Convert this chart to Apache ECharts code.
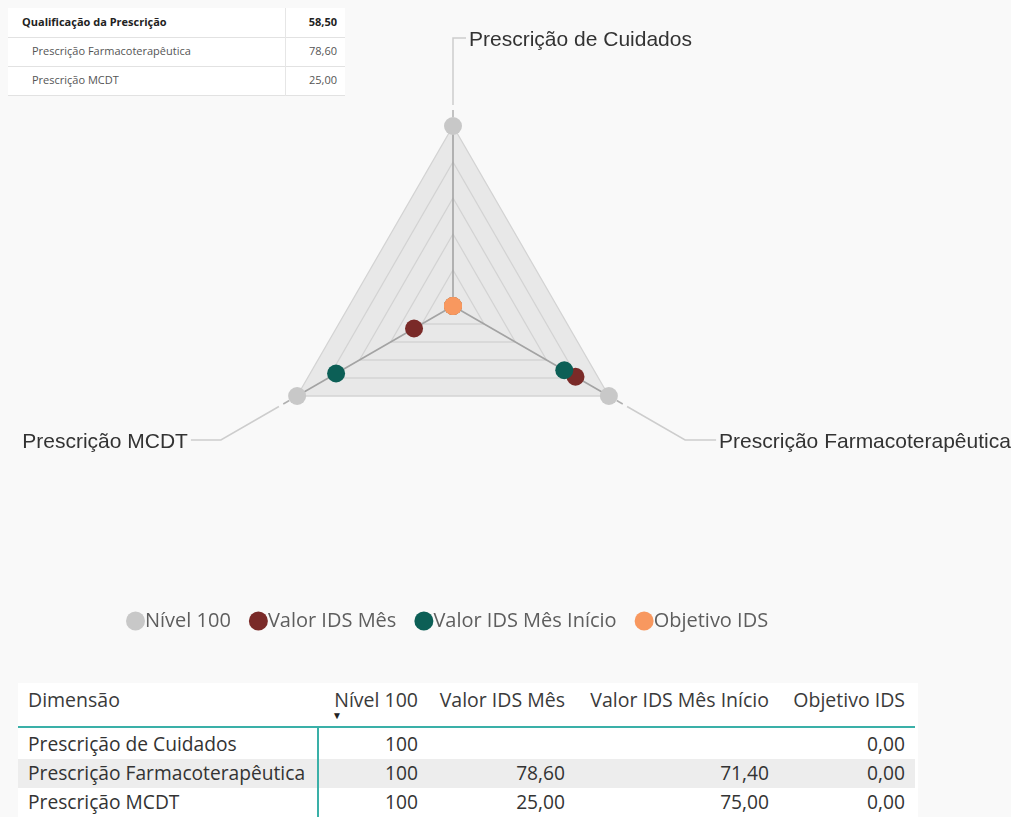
<!DOCTYPE html>
<html>
<head>
<meta charset="utf-8">
<script src="https://cdn.jsdelivr.net/npm/echarts@6/dist/echarts.min.js"></script>
<style>
  html, body { margin: 0; padding: 0; background: #f9f9f9; }
  #chart { position: absolute; left: 0; top: 0; width: 1011px; height: 817px; }
  .box { position: absolute; background: #ffffff; font-family: 'Open Sans', sans-serif; }
  .cell { position: absolute; white-space: nowrap; }
  .hline { position: absolute; height: 1px; }
  .vline { position: absolute; width: 1px; }
</style>
</head>
<body>
<div id="chart"></div>
<div id="summary" class="box"></div>
<div id="detail" class="box"></div>
<script>
// Dimensions of the prescription quality index
const categories = ['Prescrição de Cuidados', 'Prescrição Farmacoterapêutica', 'Prescrição MCDT'];

// Measures per dimension (null = no value)
const nivel100 = [100, 100, 100];
const valorIdsMes = [null, 78.60, 25.00];
const valorIdsMesInicio = [null, 71.40, 75.00];
const objetivoIds = [0, 0, 0];

const seriesNames = ['Nível 100', 'Valor IDS Mês', 'Valor IDS Mês Início', 'Objetivo IDS'];
const seriesValues = [nivel100, valorIdsMes, valorIdsMesInicio, objetivoIds];

// Summary matrix (top left)
const summaryLabels = ['Qualificação da Prescrição', 'Prescrição Farmacoterapêutica', 'Prescrição MCDT'];
const summaryValues = [58.50, 78.60, 25.00];

// Radar tick range
const axisMin = 0;
const axisMax = 100;

// ---- styling ----
const palette = ['#c8c8c8', '#7a2a28', '#0c5f56', '#f8985f'];
const axisOrder = [0, 2, 1];            // radar lays indicators out counter-clockwise
const CX = 453, CY = 306, R = 180;

const fmt = v => (v == null ? '' : v.toFixed(2).replace('.', ','));

const chart = echarts.init(document.getElementById('chart'), null, { renderer: 'canvas' });

// leader lines and axis names around the radar
const graphics = [];
const leaderLen = 88;
const tickLen = [13, 30, 31];
axisOrder.forEach((catIdx, k) => {
  const a = (90 + k * 120) * Math.PI / 180;
  const dx = Math.cos(a), dy = -Math.sin(a);
  const p = d => [CX + dx * (R + d), CY + dy * (R + d)];
  const ext0 = p(9), ext1 = p(16);
  const l0 = p(21), l1 = p(leaderLen);
  const side = k === 0 ? 1 : (dx < 0 ? -1 : 1);
  const l2 = [l1[0] + side * tickLen[k], l1[1]];
  graphics.push({
    type: 'polyline', silent: true, z: 1,
    shape: { points: [ext0, ext1] },
    style: { stroke: '#b0b0b0', lineWidth: 1.5, fill: null }
  });
  graphics.push({
    type: 'polyline', silent: true, z: 1,
    shape: { points: [l0, l1, l2] },
    style: { stroke: '#cdcdcd', lineWidth: 1.5, fill: null }
  });
  graphics.push({
    type: 'text', silent: true, z: 2,
    x: l2[0] + side * 3, y: l2[1] + 2,
    style: {
      text: categories[catIdx],
      fill: '#333333',
      font: '21px "Liberation Sans", Arial, sans-serif',
      align: side > 0 ? 'left' : 'right',
      verticalAlign: 'middle'
    }
  });
});

const option = {
  backgroundColor: 'transparent',
  animation: false,
  color: palette,
  legend: {
    data: seriesNames,
    icon: 'circle',
    left: 121,
    top: 606,
    itemWidth: 19,
    itemHeight: 19,
    itemGap: 18,
    selectedMode: false,
    textStyle: { fontFamily: 'Open Sans', fontSize: 20, color: '#5e5e5e', padding: [0, 0, 0, -5] }
  },
  radar: {
    center: [CX, CY],
    radius: R,
    startAngle: 90,
    splitNumber: 5,
    shape: 'polygon',
    indicator: axisOrder.map(i => ({ name: categories[i], min: axisMin, max: axisMax })),
    axisName: { show: false },
    axisLine: { lineStyle: { color: '#a3a3a3', width: 1.6 } },
    splitLine: { lineStyle: { color: '#d3d3d3', width: 1.3 } },
    splitArea: { show: true, areaStyle: { color: ['#e8e8e8'] } }
  },
  graphic: graphics,
  series: seriesNames.map((name, s) => ({
    name: name,
    type: 'radar',
    silent: true,
    symbol: 'circle',
    symbolSize: 18,
    itemStyle: { color: palette[s], opacity: 1 },
    lineStyle: { width: 0, opacity: 0 },
    emphasis: { disabled: true },
    data: [{
      name: name,
      value: axisOrder.map(i => (seriesValues[s][i] == null ? '-' : seriesValues[s][i]))
    }]
  }))
};
chart.setOption(option);

// ---- summary matrix ----
(function () {
  const box = document.getElementById('summary');
  Object.assign(box.style, { left: '8px', top: '8px', width: '337px', height: '88px' });
  const rowH = 29;
  summaryLabels.forEach((lab, r) => {
    const yc = 14 + r * rowH;
    const style = {
      top: (yc - 8) + 'px', fontSize: '11px', lineHeight: '16px',
      fontWeight: r === 0 ? '700' : '400',
      color: r === 0 ? '#222' : '#555'
    };
    const l = document.createElement('div');
    l.className = 'cell';
    l.textContent = lab;
    Object.assign(l.style, style, { left: (r === 0 ? 14 : 24) + 'px' });
    box.appendChild(l);
    const v = document.createElement('div');
    v.className = 'cell';
    v.textContent = fmt(summaryValues[r]);
    Object.assign(v.style, style, { right: '8px' });
    box.appendChild(v);
    const hl = document.createElement('div');
    hl.className = 'hline';
    Object.assign(hl.style, { left: '0px', width: '337px', top: (29 + r * rowH) + 'px', background: '#e2e2e2' });
    box.appendChild(hl);
  });
  const vl = document.createElement('div');
  vl.className = 'vline';
  Object.assign(vl.style, { left: '277px', top: '0px', height: '88px', background: '#e6e6e6' });
  box.appendChild(vl);
})();

// ---- detail table ----
(function () {
  const box = document.getElementById('detail');
  Object.assign(box.style, { left: '18px', top: '683px', width: '900px', height: '134px' });
  const colRight = [null, 400, 547, 751, 887];   // right edges of numeric columns
  const headerY = 17, rowY0 = 61, rowH = 29;
  const mk = (text, style) => {
    const d = document.createElement('div');
    d.className = 'cell';
    d.textContent = text;
    Object.assign(d.style, { fontSize: '19.2px', lineHeight: '24px', color: '#333' }, style);
    box.appendChild(d);
  };
  // zebra row
  const band = document.createElement('div');
  Object.assign(band.style, { position: 'absolute', left: '0px', top: (rowY0 + rowH - 14.5) + 'px', width: '897px', height: rowH + 'px', background: '#ededed' });
  box.appendChild(band);
  // header
  mk('Dimensão', { left: '10px', top: (headerY - 12) + 'px', color: '#3a3a3a', fontSize: '19.5px' });
  seriesNames.forEach((n, c) => {
    mk(n, { right: (900 - colRight[c + 1]) + 'px', top: (headerY - 12) + 'px', color: '#3a3a3a', fontSize: '19.5px' });
  });
  mk('▼', { left: '314px', top: '26px', fontSize: '10px', lineHeight: '12px', color: '#222' });
  // rows
  categories.forEach((cat, r) => {
    const y = rowY0 + r * rowH - 12;
    mk(cat, { left: '10px', top: y + 'px' });
    seriesValues.forEach((arr, c) => {
      const txt = c === 0 ? (arr[r] == null ? '' : String(arr[r])) : fmt(arr[r]);
      mk(txt, { right: (900 - colRight[c + 1]) + 'px', top: y + 'px' });
    });
  });
  // teal rules
  const h = document.createElement('div');
  Object.assign(h.style, { position: 'absolute', left: '0px', top: '43px', width: '897px', height: '2px', background: '#3ab0a8' });
  box.appendChild(h);
  const v = document.createElement('div');
  Object.assign(v.style, { position: 'absolute', left: '299px', top: '44px', width: '2px', height: '90px', background: '#3ab0a8' });
  box.appendChild(v);
})();
</script>
</body>
</html>
